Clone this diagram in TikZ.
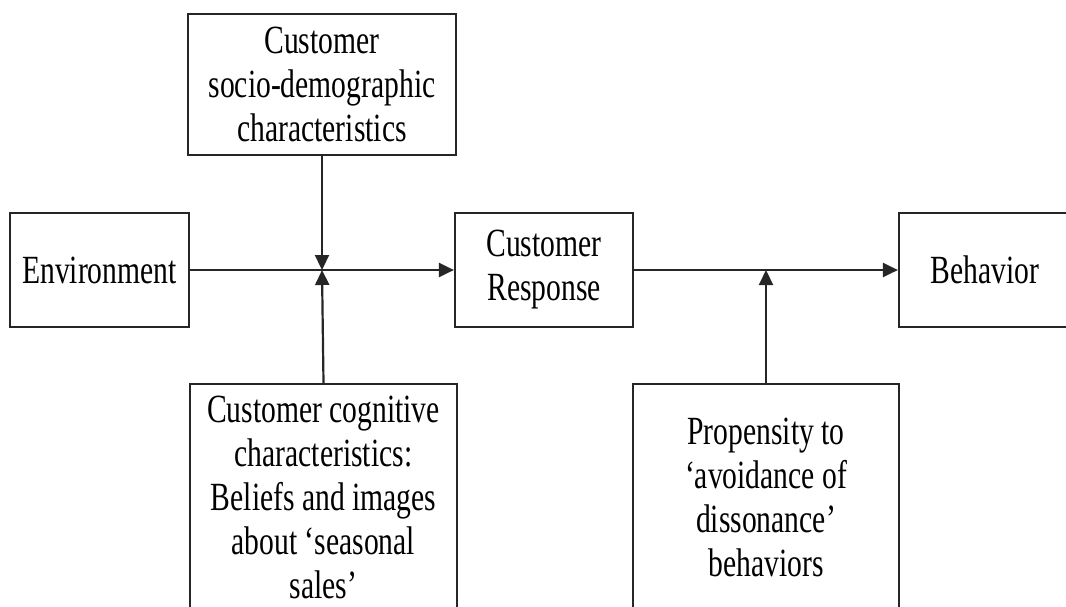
\documentclass[tikz,border=0pt]{standalone}
\usepackage{fontspec}
\setmainfont[FakeStretch=0.74]{Liberation Serif}
\usetikzlibrary{arrows.meta,positioning}
\newcommand{\figfont}{\fontsize{40}{44}\selectfont}
\tikzset{
  block/.style={draw=black!85, line width=2.2pt, align=center, inner sep=0pt, font=\figfont},
  link/.style={black!85, line width=2.2pt, -{Triangle[length=15pt,width=14pt]}}
}
\begin{document}
\begin{tikzpicture}[x=1pt, y=-1pt]
  \useasboundingbox (0,0) rectangle (1066,606);
  % boxes
  \node[block, minimum width=268pt, minimum height=141pt] (demo) at (322,84.5)
    {Customer\\socio-demographic\\characteristics};
  \node[block, minimum width=179pt, minimum height=114pt] (env) at (99.5,270) {Environment};
  \node[block, minimum width=178pt, minimum height=114pt] (resp) at (544,270) {Customer\\Response};
  \node[block, minimum width=172pt, minimum height=114pt] (beh) at (985,270) {Behavior};
  \node[block, minimum width=267pt, minimum height=226pt] (cog) at (323.5,497)
    {Customer cognitive\\characteristics:\\Beliefs and images\\about `seasonal\\sales'};
  \node[block, minimum width=266pt, minimum height=226pt] (prop) at (766,497)
    {Propensity to\\`avoidance of\\dissonance'\\behaviors};
  % meeting points on the main line
  \coordinate (j1) at (demo.south |- env.east);
  \coordinate (j2) at (prop.north |- resp.east);
  % connectors
  \draw[link] (env.east) -- (resp.west);
  \draw[link] (demo.south) -- (j1);
  \draw[link] (cog.north) -- (j1);
  \draw[link] (resp.east) -- (beh.west);
  \draw[link] (prop.north) -- (j2);
\end{tikzpicture}
\end{document}
